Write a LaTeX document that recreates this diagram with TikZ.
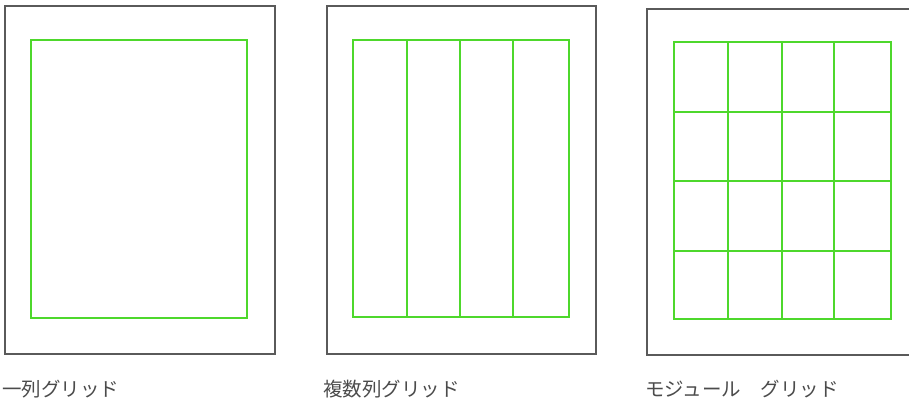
\documentclass[tikz,border=0pt]{standalone}
\usepackage{fontspec}
\newfontfamily\cjk{Noto Sans CJK JP}
\definecolor{framegray}{RGB}{90,90,90}
\definecolor{gridgreen}{RGB}{78,216,44}
\definecolor{labelgray}{RGB}{75,75,75}
\tikzset{
  page/.style={draw=framegray, line width=1.3pt},
  gridline/.style={draw=gridgreen, line width=1.1pt},
  caption/.style={anchor=west, inner sep=0pt, text=labelgray, font=\cjk\fontsize{19.5}{22}\selectfont}
}
\begin{document}
\begin{tikzpicture}[x=1pt,y=-1pt]
\useasboundingbox (0,0) rectangle (909,400);
\clip (0,0) rectangle (909,400);
% panel 1
\draw[page] (5,6) rectangle (275,354);
\draw[gridline] (31,40) rectangle (247,318);
\node[caption] (c1) at (2,389) {一列グリッド};
% panel 2
\draw[page] (327,6) rectangle (596,354);
\draw[gridline] (353,40) rectangle (569,317);
\foreach \x in {407,460,513} \draw[gridline] (\x,40) -- (\x,317);
\node[caption] (c2) at (323,389) {複数列グリッド};
% panel 3
\draw[page] (912,9) -- (647,9) -- (647,355) -- (912,355);
\draw[gridline] (674,42) rectangle (891,319);
\foreach \x in {728,782,834} \draw[gridline] (\x,42) -- (\x,319);
\foreach \y in {112,181,251} \draw[gridline] (674,\y) -- (891,\y);
\node[caption] (c3) at (645,389) {モジュール　グリッド};
\end{tikzpicture}
\end{document}
